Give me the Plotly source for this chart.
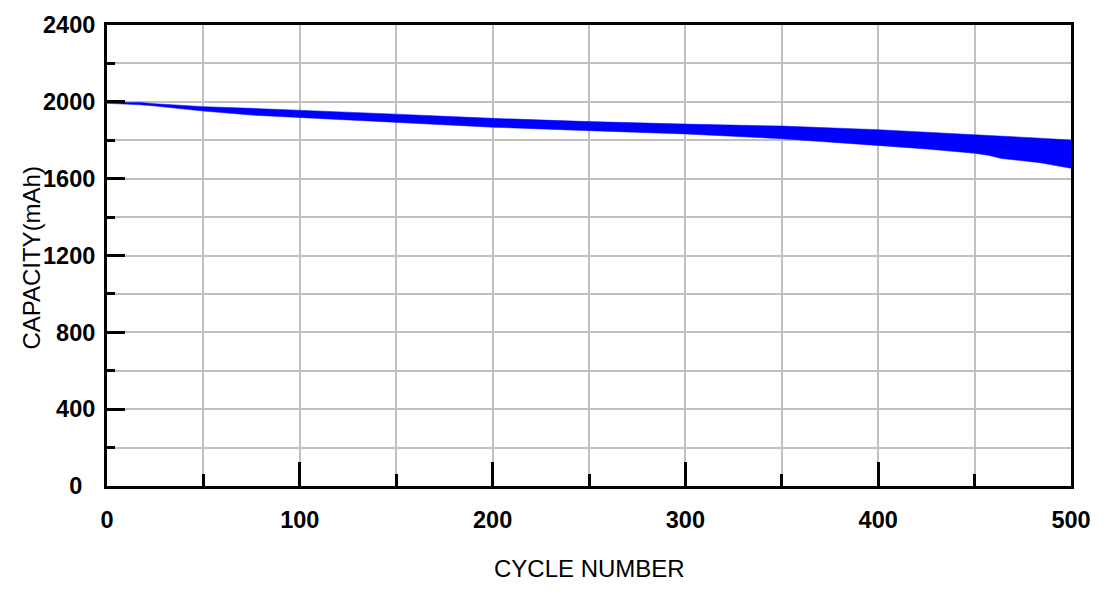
import plotly.graph_objects as go

# Data
cycles = [0, 10, 17, 25, 50, 75, 100, 150, 200, 250, 300, 350, 400, 425, 450, 457, 464, 475, 484, 500]
cap_upper = [1997, 1995, 1997, 1990, 1975, 1966, 1957, 1936, 1914, 1897, 1884, 1874, 1855, 1843, 1829, 1826, 1823, 1816, 1811, 1801]
cap_lower = [1992, 1988, 1985, 1978, 1952, 1931, 1919, 1895, 1868, 1850, 1833, 1808, 1772, 1755, 1732, 1722, 1705, 1695, 1683, 1654]

x_tickvals = [0, 100, 200, 300, 400, 500]
x_ticktext = ["0", "100", "200", "300", "400", "500"]
y_tickvals = [0, 400, 800, 1200, 1600, 2000, 2400]
y_ticktext = ["0\u00a0\u00a0", "400", "800", "1200", "1600", "2000", "2400"]

x_title = "CYCLE NUMBER"
y_title = "CAPACITY(mAh)"

BLUE = "#0000FF"
GRID = "#C0C0C0"
FONT = "Liberation Sans, Arial, sans-serif"

fig = go.Figure()
fig.add_trace(go.Scatter(x=cycles, y=cap_lower, mode="lines",
                         line=dict(color=BLUE, width=0.5), showlegend=False,
                         hoverinfo="skip"))
fig.add_trace(go.Scatter(x=cycles, y=cap_upper, mode="lines",
                         line=dict(color=BLUE, width=0.5), fill="tonexty",
                         fillcolor=BLUE, showlegend=False, hoverinfo="skip"))

# page body has an 8px margin; compensate so the plot area lands at 107..1071 x 25..486
fig.update_layout(
    width=1091, height=581,
    margin=dict(l=99, r=28, t=17, b=103, autoexpand=False),
    paper_bgcolor="white", plot_bgcolor="white",
    font=dict(family=FONT, color="black"),
    showlegend=False,
)

fig.update_xaxes(
    range=[0, 500], automargin=False,
    tickmode="array", tickvals=x_tickvals, ticktext=x_ticktext,
    ticks="inside", ticklen=24, tickwidth=3, tickcolor="black",
    showline=True, linecolor="black", linewidth=3, mirror=True,
    showgrid=True, gridcolor=GRID, gridwidth=2,
    minor=dict(dtick=50, tick0=0, ticks="inside", ticklen=12, tickwidth=3,
               tickcolor="black", showgrid=True, gridcolor=GRID, gridwidth=2),
    tickfont=dict(family=FONT, size=23.5, weight="bold", color="black"),
    ticklabelstandoff=11,
    zeroline=False, fixedrange=True,
)
fig.update_yaxes(
    range=[0, 2400], automargin=False,
    tickmode="array", tickvals=y_tickvals, ticktext=y_ticktext,
    ticks="inside", ticklen=18, tickwidth=3, tickcolor="black",
    showline=True, linecolor="black", linewidth=3, mirror=True,
    showgrid=True, gridcolor=GRID, gridwidth=2,
    minor=dict(dtick=200, tick0=0, ticks="inside", ticklen=8, tickwidth=3,
               tickcolor="black", showgrid=True, gridcolor=GRID, gridwidth=2),
    tickfont=dict(family=FONT, size=23.5, weight="bold", color="black"),
    ticklabelstandoff=4,
    zeroline=False, fixedrange=True,
)

fig.add_annotation(text=x_title, xref="paper", yref="paper", x=0.5, y=-0.178,
                   yanchor="middle", xanchor="center", showarrow=False,
                   font=dict(family=FONT, size=24, color="black"))
fig.add_annotation(text=y_title, xref="paper", yref="paper", x=-0.078, y=0.495,
                   xanchor="center", yanchor="middle", textangle=-90, showarrow=False,
                   font=dict(family=FONT, size=24, color="black"))

fig.write_html("out.html")
